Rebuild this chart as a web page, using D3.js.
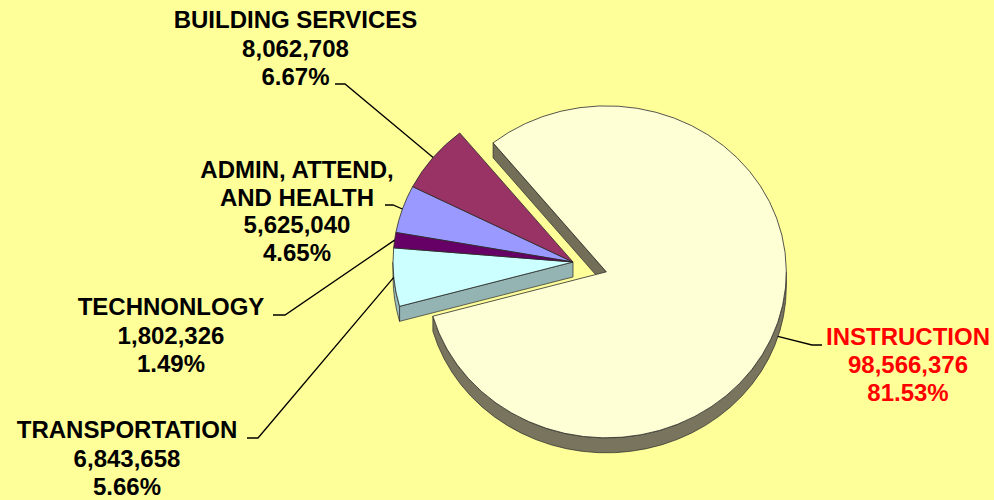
<!DOCTYPE html>
<html>
<head>
<meta charset="utf-8">
<script src="https://cdn.jsdelivr.net/npm/d3@7"></script>
<style>
  html, body { margin: 0; padding: 0; background: #FFFF99; }
  svg { display: block; }
  text { font-family: "Liberation Sans", Arial, sans-serif; font-weight: bold; }
</style>
</head>
<body>
<svg id="chart" width="994" height="500"></svg>
<script>
// ---- data ----
const categories = ["ADMIN, ATTEND, AND HEALTH", "BUILDING SERVICES", "INSTRUCTION", "TRANSPORTATION", "TECHNONLOGY"];
const labelLines = [["ADMIN, ATTEND,", "AND HEALTH"], ["BUILDING SERVICES"], ["INSTRUCTION"], ["TRANSPORTATION"], ["TECHNONLOGY"]];
const values = [5625040, 8062708, 98566376, 6843658, 1802326];
const exploded = [false, false, true, false, false];

// ---- styles / layout ----
const topColors  = ["#9999FF", "#993366", "#FFFFD6", "#CCFFFF", "#660066"];
const sideColors = ["#6F6FBB", "#6E2449", "#78745D", "#9CBDBD", "#440044"];
const textColors = ["#000000", "#000000", "#FF0000", "#000000", "#000000"];
const labelLayout = [
  { cx: 297,   y0: 178, lh: 27.5, elbow: [[385, 205], [393, 205]], drop: 0 },
  { cx: 295.5, y0: 28,  lh: 28.5, elbow: [[335, 84],  [345, 84]],  drop: 0 },
  { cx: 908,   y0: 345, lh: 28,   elbow: [[822, 345], [812, 345]], drop: 14 },
  { cx: 127,   y0: 438, lh: 28.5, elbow: [[247, 438], [258, 438]], drop: 0 },
  { cx: 171,   y0: 315, lh: 28.5, elbow: [[273, 315], [285, 315]], drop: 0 }
];
const W = 994, H = 500;
const cx = 573, cy = 262, rx = 180, ry = 166, depth = 15, explodeDist = 35;
const startDeg = -79.75;

const svg = d3.select("#chart");
svg.append("rect").attr("width", W).attr("height", H).attr("fill", "#FFFF99");

const total = d3.sum(values);
const fmtNum = d3.format(",");
const fmtPct = d3.format(".2%");

const pie = d3.pie().sort(null).value(d => d)
  .startAngle(startDeg * Math.PI / 180)
  .endAngle(startDeg * Math.PI / 180 + 2 * Math.PI);
const arcs = pie(values).map((a, i) => {
  const mid = (a.startAngle + a.endAngle) / 2;
  let ox = cx, oy = cy;
  if (exploded[i]) {
    ox += explodeDist * Math.sin(mid);
    oy -= explodeDist * Math.cos(mid) * (ry / rx);
  }
  return { ...a, i, mid, ox, oy };
});

function pt(a, ang, dy = 0) {
  return [a.ox + rx * Math.sin(ang), a.oy - ry * Math.cos(ang) + dy];
}
function arcCmd(a0, a1, p1, sweep) {
  const large = Math.abs(a1 - a0) > Math.PI ? 1 : 0;
  return `A${rx},${ry} 0 ${large} ${sweep} ${p1[0]},${p1[1]}`;
}

const sides = svg.append("g");
const tops = svg.append("g");

arcs.forEach((a, k) => {
  const n = arcs.length;
  const prev = arcs[(k - 1 + n) % n], next = arcs[(k + 1) % n];
  // cut faces at group boundaries
  const edges = [];
  if (exploded[a.i] || exploded[prev.i]) {
    if (Math.sin(a.startAngle) < 0) edges.push(a.startAngle);
  }
  if (exploded[a.i] || exploded[next.i]) {
    if (Math.sin(a.endAngle) > 0) edges.push(a.endAngle);
  }
  edges.forEach(ang => {
    const p = pt(a, ang);
    sides.append("path")
      .attr("d", `M${a.ox},${a.oy} L${p[0]},${p[1]} L${p[0]},${p[1] + depth} L${a.ox},${a.oy + depth} Z`)
      .attr("fill", d3.color(sideColors[a.i]).darker(0.15))
      .attr("stroke", "#2a2a2a").attr("stroke-width", 0.7);
  });
  // outer wall: visible part between PI/2 and 3PI/2 (mod 2PI)
  const norm = x => ((x % (2 * Math.PI)) + 2 * Math.PI) % (2 * Math.PI);
  let s = norm(a.startAngle), e = s + (a.endAngle - a.startAngle);
  [[Math.PI / 2, 3 * Math.PI / 2], [Math.PI / 2 + 2 * Math.PI, 3 * Math.PI / 2 + 2 * Math.PI]].forEach(([lo, hi]) => {
    const v0 = Math.max(s, lo), v1 = Math.min(e, hi);
    if (v1 > v0) {
      const p0 = pt(a, v0), p1 = pt(a, v1);
      const q0 = pt(a, v0, depth), q1 = pt(a, v1, depth);
      sides.append("path")
        .attr("d", `M${p0[0]},${p0[1]} ${arcCmd(v0, v1, p1, 1)} L${q1[0]},${q1[1]} ${arcCmd(v1, v0, q0, 0)} Z`)
        .attr("fill", sideColors[a.i])
        .attr("stroke", "#2a2a2a").attr("stroke-width", 0.7);
    }
  });
});

arcs.forEach(a => {
  const p0 = pt(a, a.startAngle), p1 = pt(a, a.endAngle);
  tops.append("path")
    .attr("d", `M${a.ox},${a.oy} L${p0[0]},${p0[1]} ${arcCmd(a.startAngle, a.endAngle, p1, 1)} Z`)
    .attr("fill", topColors[a.i])
    .attr("stroke", "#2a2a2a").attr("stroke-width", 0.8)
    .attr("stroke-linejoin", "round");
});

// leaders and labels
const lab = svg.append("g");
arcs.forEach(a => {
  const L = labelLayout[a.i];
  const end = pt(a, a.mid, L.drop);
  const ptsArr = [L.elbow[0], L.elbow[1], end];
  lab.append("path")
    .attr("d", d3.line()(ptsArr))
    .attr("fill", "none").attr("stroke", "#000").attr("stroke-width", 1.3);
  const lines = labelLines[a.i].concat([fmtNum(values[a.i]), fmtPct(values[a.i] / total)]);
  const t = lab.append("text")
    .attr("text-anchor", "middle")
    .attr("fill", textColors[a.i])
    .attr("font-size", 24);
  lines.forEach((ln, j) => {
    t.append("tspan").attr("x", L.cx).attr("y", L.y0 + j * L.lh).text(ln);
  });
});
</script>
</body>
</html>
